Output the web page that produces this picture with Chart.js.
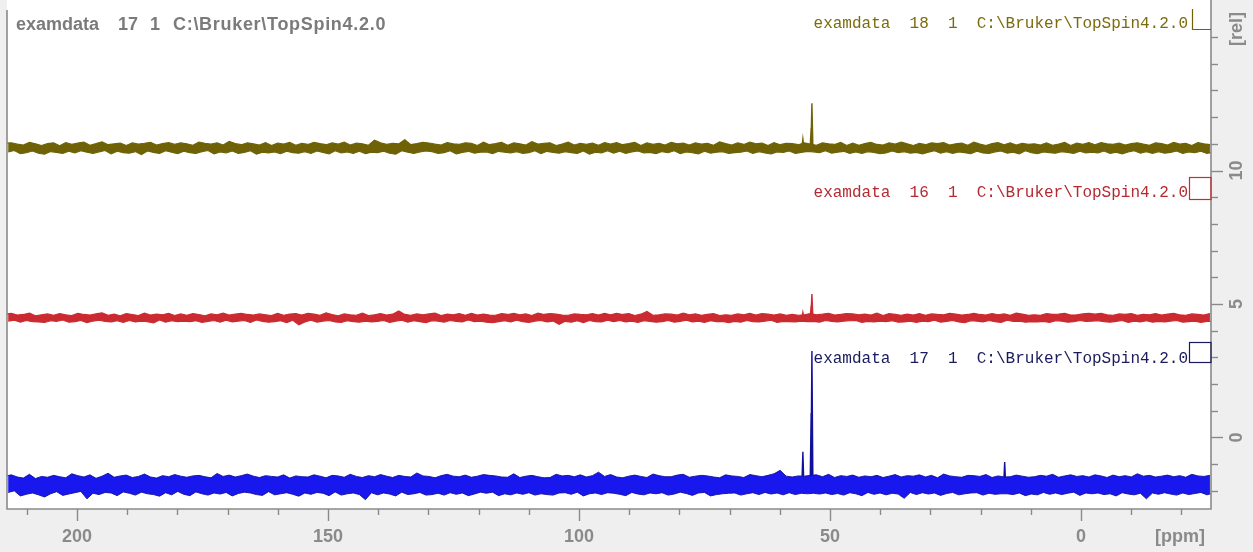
<!DOCTYPE html>
<html>
<head>
<meta charset="utf-8">
<script src="https://cdn.jsdelivr.net/npm/chart.js@4/dist/chart.umd.min.js"></script>
<style>
html,body{margin:0;padding:0;background:#efefef;}
canvas{display:block;}
</style>
</head>
<body>
<canvas id="c" width="1253" height="552"></canvas>
<script>
// ---- sampling grid (ppm) ----
const ppmStart = 214.3;
const ppmStep = 0.603;

// ---- stacking offsets of each spectrum [rel] ----
const oliveOffset = 10.84;
const redOffset = 4.48;
const blueOffset = -1.78;

// ---- axis ticks ----
const xTickLabels = [200, 150, 100, 50, 0];
const yTickLabels = [0, 5, 10];

// ---- spectrum titles ----
const titleMain = ['examdata', '17', '1', 'C:\\Bruker\\TopSpin4.2.0'];
const oliveName = 'examdata  18  1  C:\\Bruker\\TopSpin4.2.0';
const redName   = 'examdata  16  1  C:\\Bruker\\TopSpin4.2.0';
const blueName  = 'examdata  17  1  C:\\Bruker\\TopSpin4.2.0';

// ---- peaks (ppm, height above baseline) ----
const olivePeakPpm = [55.4, 53.75, 53.6];
const olivePeakHeight = [0.34, 0.75, 1.68];
const redPeakPpm = [55.4, 53.75, 53.6];
const redPeakHeight = [0.2, 0.45, 0.89];
const bluePeakPpm = [55.4, 53.75, 53.6, 15.2];
const bluePeakHeight = [1.24, 2.7, 5.02, 0.86];

// ---- baseline noise (relative to each spectrum's own baseline) ----
const oliveSpec = [
.18,-.14,.2,-.09,.15,-.21,.12,-.17,.22,-.11,.16,-.19,.1,-.23,.17,-.13,.2,-.16,.09,-.2,
.21,-.12,.14,-.18,.19,-.1,.23,-.15,.11,-.2,.17,-.14,.24,-.09,.13,-.22,.16,-.12,.19,-.17,
.1,-.19,.2,-.13,.15,-.24,.18,-.11,.22,-.16,.12,-.2,.17,-.1,.21,-.15,.14,-.21,.2,-.12,
.16,-.17,.11,-.2,.23,-.13,.18,-.09,.15,-.22,.2,-.14,.12,-.18,.25,-.11,.17,-.2,.13,-.16,
.2,-.1,.16,-.23,.12,-.15,.21,-.18,.1,-.14,.19,-.21,.15,-.12,.22,-.17,.11,-.19,.18,-.13,
.14,-.2,.22,-.11,.17,-.16,.13,-.22,.2,-.1,.15,-.18,.23,-.14,.12,-.2,.19,-.12,.16,-.21,
.11,-.15,.3,-.17,.2,-.12,.14,-.19,.18,-.23,.16,-.1,.32,-.15,.13,-.2,.17,-.14,.22,-.11,
.19,-.13,.15,-.2,.12,-.17,.21,-.1,.16,-.22,.14,-.16,.2,-.12,.18,-.19,.1,-.15,.23,-.14,
.13,-.21,.17,-.12,.22,-.15,.11,-.18,.2,-.13,.16,-.2,.12,-.17,.24,-.1,.15,-.21,.18,-.12,
.2,-.16,.1,-.19,.15,-.13,.23,-.17,.12,-.2,.18,-.11,.14,-.23,.19,-.15,.11,-.18,.21,-.1,
.15,-.19,.21,-.12,.13,-.2,.17,-.14,.22,-.11,.1,-.18,.2,-.16,.14,-.21,.18,-.13,.12,-.17,
.22,-.1,.16,-.21,.19,-.14,.12,-.17,.2,-.22,.15,-.12,.18,-.19,.11,-.15,.24,-.13,.17,-.2,
.12,-.17,.2,-.15,.14,-.11,.23,-.2,.16,-.13,.19,-.18,.1,-.22,.21,-.14,.13,-.16,.18,-.11,
.17,-.2,.13,-.16,.2,-.12,.15,-.14,.11,-.17,.2,-.1,.16,-.19,.14,-.15,.22,-.12,.1,-.2,
.19,-.14,.11,-.2,.17,-.13,.22,-.16,.14,-.21,.12,-.18,.2,-.11,.15,-.17,.23,-.13,.16,-.19,
.1,-.16,.18,-.22,.13,-.15,.2,-.1,.17,-.19,.21,-.13,.12,-.2,.16,-.14,.19,-.17,.11,-.21,
.23,-.12,.15,-.18,.1,-.2,.17,-.14,.21,-.11,.13,-.19,.2,-.15,.12,-.22,.18,-.1,.14,-.17,
.16,-.21,.12,-.14,.2,-.17,.11,-.19,.15,-.13,.22,-.16,.1,-.2,.19,-.12,.14,-.18,.21,-.15,
.13,-.18,.21,-.11,.16,-.2,.14,-.15,.19,-.22,.12,-.14,.17,-.1,.2,-.19,.15,-.13,.11,-.2,
.2,-.13,.17,-.19,.12,-.16,.22,-.11,.15,-.2,.18,-.14,.1,-.17,.21,-.12,.16,-.2,.13,-.15
];

const redSpec = [
.14,-.12,.17,-.09,.11,-.16,.13,-.1,.18,-.14,.08,-.15,.12,-.17,.15,-.11,.1,-.13,.16,-.08,
.12,-.16,.09,-.14,.17,-.1,.13,-.18,.11,-.12,.15,-.09,.19,-.13,.1,-.15,.14,-.11,.08,-.17,
.16,-.1,.13,-.15,.09,-.12,.18,-.14,.11,-.19,.14,-.08,.12,-.16,.17,-.11,.09,-.14,.15,-.12,
.1,-.14,.16,-.11,.13,-.17,.08,-.13,.15,-.1,.12,-.16,.18,-.09,.11,-.15,.14,-.12,.17,-.1,
.13,-.17,.11,-.08,.15,-.13,.12,-.16,.09,-.14,.17,-.11,.1,-.18,.14,-.09,.16,-.26,.11,-.15,
.17,-.09,.14,-.16,.1,-.12,.19,-.1,.13,-.15,.08,-.17,.15,-.11,.12,-.14,.1,-.16,.18,-.12,
.09,-.15,.12,-.13,.16,-.1,.11,-.17,.14,-.12,.26,-.09,.13,-.16,.1,-.11,.15,-.14,.12,-.18,
.15,-.11,.18,-.12,.09,-.16,.14,-.1,.12,-.13,.16,-.15,.1,-.08,.17,-.14,.11,-.12,.14,-.16,
.11,-.18,.1,-.14,.16,-.11,.13,-.15,.17,-.09,.12,-.14,.15,-.17,.09,-.12,.18,-.1,.13,-.15,
.16,-.12,.14,-.24,.11,-.13,.1,-.16,.15,-.11,.13,-.18,.12,-.1,.16,-.14,.11,-.15,.17,-.09,
.12,-.14,.17,-.1,.13,-.15,.16,-.12,.09,-.17,.14,-.11,.24,-.13,.1,-.16,.12,-.14,.15,-.1,
.14,-.16,.11,-.13,.18,-.09,.12,-.15,.15,-.12,.1,-.17,.13,-.11,.16,-.14,.09,-.13,.12,-.18,
.1,-.13,.15,-.16,.12,-.1,.17,-.14,.11,-.15,.16,-.12,.14,-.09,.11,-.17,.15,-.13,.1,-.14,
.13,-.15,.1,-.12,.12,-.14,.16,-.13,.12,-.16,.14,-.1,.17,-.13,.11,-.15,.13,-.12,.16,-.11,
.15,-.1,.12,-.17,.14,-.13,.11,-.15,.18,-.12,.09,-.14,.16,-.11,.13,-.16,.1,-.15,.14,-.12,
.11,-.17,.16,-.12,.1,-.14,.15,-.09,.13,-.16,.12,-.13,.17,-.1,.14,-.15,.11,-.18,.13,-.11,
.17,-.12,.13,-.15,.11,-.1,.16,-.14,.12,-.17,.15,-.09,.1,-.13,.18,-.12,.14,-.16,.1,-.14,
.12,-.15,.1,-.13,.16,-.17,.13,-.11,.14,-.12,.17,-.16,.11,-.14,.12,-.1,.15,-.13,.17,-.12,
.14,-.11,.17,-.14,.12,-.16,.1,-.13,.15,-.1,.13,-.17,.16,-.12,.1,-.15,.13,-.11,.12,-.16,
.16,-.13,.11,-.15,.14,-.12,.17,-.1,.12,-.16,.1,-.14,.15,-.12,.13,-.17,.11,-.13,.16,-.14
];

const blueSpec = [
.33,-.28,.38,-.22,.3,-.41,.26,-.35,.4,-.3,.24,-.37,.32,-.45,.29,-.33,.36,-.25,.31,-.39,
.27,-.34,.42,-.29,.35,-.24,.3,-.52,.38,-.31,.25,-.36,.33,-.28,.44,-.3,.29,-.4,.34,-.26,
.37,-.31,.28,-.38,.32,-.27,.41,-.33,.3,-.36,.26,-.42,.35,-.29,.31,-.37,.39,-.24,.33,-.35,
.29,-.4,.34,-.26,.36,-.33,.31,-.38,.27,-.3,.43,-.34,.32,-.28,.37,-.41,.3,-.32,.35,-.27,
.41,-.3,.33,-.36,.28,-.39,.35,-.25,.32,-.37,.3,-.33,.38,-.29,.26,-.35,.34,-.42,.31,-.3,
.3,-.35,.38,-.28,.33,-.31,.27,-.4,.36,-.26,.34,-.38,.29,-.33,.4,-.3,.32,-.36,.28,-.55,
.35,-.29,.31,-.37,.39,-.3,.33,-.34,.28,-.41,.36,-.27,.32,-.36,.3,-.33,.45,-.28,.34,-.38,
.32,-.36,.27,-.31,.35,-.38,.4,-.29,.33,-.35,.31,-.3,.37,-.4,.29,-.34,.33,-.27,.39,-.31,
.36,-.27,.34,-.4,.3,-.33,.29,-.37,.42,-.3,.28,-.35,.33,-.29,.36,-.38,.31,-.33,.27,-.36,
.28,-.38,.4,-.3,.34,-.29,.36,-.35,.31,-.27,.38,-.41,.3,-.33,.35,-.3,.48,-.36,.32,-.29,
.39,-.31,.3,-.35,.27,-.4,.33,-.28,.37,-.34,.32,-.37,.28,-.3,.41,-.33,.35,-.29,.31,-.38,
.31,-.34,.37,-.27,.4,-.32,.29,-.39,.33,-.3,.36,-.28,.34,-.41,.3,-.36,.27,-.33,.38,-.31,
.34,-.3,.32,-.38,.28,-.33,.39,-.29,.35,-.36,.31,-.28,.36,-.34,.42,-.3,.55,-.37,.33,-.29,
.3,-.36,.34,-.31,.33,-.33,.36,-.31,.38,-.34,.31,-.3,.4,-.36,.28,-.32,.35,-.38,.32,-.29,
.37,-.33,.29,-.4,.34,-.28,.31,-.35,.36,-.3,.28,-.37,.33,-.31,.39,-.34,.3,-.5,.35,-.28,
.33,-.36,.38,-.29,.3,-.34,.36,-.3,.27,-.39,.41,-.32,.34,-.28,.31,-.37,.29,-.33,.36,-.3,
.35,-.29,.32,-.38,.39,-.31,.28,-.35,.34,-.33,.3,-.33,.31,-.36,.37,-.3,.33,-.4,.29,-.34,
.31,-.37,.36,-.28,.33,-.35,.4,-.3,.29,-.36,.34,-.31,.38,-.27,.32,-.39,.35,-.3,.3,-.33,
.38,-.3,.34,-.36,.28,-.33,.37,-.41,.31,-.29,.35,-.34,.3,-.37,.42,-.31,.33,-.52,.36,-.3,
.3,-.35,.33,-.29,.37,-.34,.31,-.38,.35,-.3,.29,-.36,.4,-.32,.34,-.28,.32,-.37,.36,-.3
];

// ---- colours ----
const oliveColor = '#6f6206';
const redColor = '#cb2a30';
const blueColor = '#1717ee';
const blueEdge = '#10109a';
const oliveText = '#7a6c0c';
const redText = '#b42a30';
const blueText = '#1a1a5e';
const axisGray = '#8a8a8a';

// upper edge of the noise band = positive samples, lower edge = negative samples
function edge(arr, offset, upper) {
  const pts = [];
  arr.forEach((v, i) => {
    if ((v >= 0) === upper) pts.push({ x: ppmStart - ppmStep * i, y: v + offset });
  });
  return pts;
}
function sticks(ppm, h, offset) {
  const pts = [];
  ppm.forEach((p, i) => {
    pts.push({ x: p + 0.2, y: offset }, { x: p, y: offset + h[i] }, { x: p - 0.2, y: offset }, { x: p - 0.21, y: null });
  });
  return pts;
}
function band(arr, offset, fillColor, edgeColor, w) {
  return [
    { data: edge(arr, offset, false), borderColor: edgeColor, borderWidth: w, fill: false },
    { data: edge(arr, offset, true), borderColor: edgeColor, borderWidth: w, backgroundColor: fillColor, fill: '-1' }
  ];
}

const decor = {
  id: 'decor',
  beforeDraw(chart) {
    const { ctx, chartArea: a } = chart;
    ctx.save();
    ctx.fillStyle = '#efefef';
    ctx.fillRect(0, 0, chart.width, chart.height);
    ctx.fillStyle = '#ffffff';
    ctx.fillRect(a.left, 0, a.right - a.left, a.bottom);
    ctx.restore();
  },
  afterDraw(chart) {
    const { ctx, chartArea: a } = chart;
    const xs = chart.scales.x, ys = chart.scales.y;
    ctx.save();
    // frame
    ctx.strokeStyle = axisGray;
    ctx.lineWidth = 1.6;
    ctx.beginPath();
    ctx.moveTo(a.left, 10); ctx.lineTo(a.left, a.bottom);
    ctx.lineTo(a.right, a.bottom); ctx.lineTo(a.right, 0);
    ctx.stroke();
    // x ticks
    ctx.lineWidth = 1.4;
    for (let v = 210; v >= -20; v -= 10) {
      const px = Math.round(xs.getPixelForValue(v)) + 0.5;
      const len = (v % 50 === 0) ? 12 : 6;
      ctx.beginPath(); ctx.moveTo(px, a.bottom); ctx.lineTo(px, a.bottom + len); ctx.stroke();
    }
    ctx.fillStyle = axisGray;
    ctx.font = 'bold 18px "Liberation Sans", Arial, sans-serif';
    ctx.textAlign = 'center';
    ctx.textBaseline = 'alphabetic';
    xTickLabels.forEach(v => ctx.fillText(String(v), xs.getPixelForValue(v), 542));
    ctx.fillText('[ppm]', 1180, 542);
    // y ticks
    for (let v = -2; v <= 15; v++) {
      const py = Math.round(ys.getPixelForValue(v)) + 0.5;
      const len = (v % 5 === 0 && v !== 15) ? 12 : 7;
      ctx.beginPath(); ctx.moveTo(a.right, py); ctx.lineTo(a.right + len, py); ctx.stroke();
    }
    ctx.textBaseline = 'middle';
    yTickLabels.forEach(v => {
      ctx.save();
      ctx.translate(1237, ys.getPixelForValue(v));
      ctx.rotate(-Math.PI / 2);
      ctx.fillText(String(v), 0, 0);
      ctx.restore();
    });
    ctx.save();
    ctx.translate(1237, 29);
    ctx.rotate(-Math.PI / 2);
    ctx.fillText('[rel]', 0, 0);
    ctx.restore();
    // main title
    ctx.fillStyle = '#7b7b7b';
    ctx.textAlign = 'left';
    ctx.textBaseline = 'alphabetic';
    ctx.font = 'bold 18px "Liberation Sans", Arial, sans-serif';
    const tx = [16, 118, 150, 173];
    titleMain.forEach((t, i) => {
      ctx.letterSpacing = (i === 3) ? '0.7px' : '0px';
      ctx.fillText(t, tx[i], 30);
    });
    ctx.letterSpacing = '0px';
    // spectrum labels
    ctx.font = '16px "Liberation Mono", "DejaVu Sans Mono", monospace';
    ctx.textAlign = 'right';
    ctx.fillStyle = oliveText; ctx.fillText(oliveName, 1188, 28);
    ctx.fillStyle = redText; ctx.fillText(redName, 1188, 197);
    ctx.fillStyle = blueText; ctx.fillText(blueName, 1188, 363);
    // intensity brackets
    ctx.lineWidth = 1.2;
    ctx.strokeStyle = oliveColor;
    ctx.beginPath(); ctx.moveTo(1192.5, 9); ctx.lineTo(1192.5, 29.5); ctx.lineTo(a.right, 29.5); ctx.stroke();
    ctx.strokeStyle = redColor;
    ctx.strokeRect(1189.5, 177.5, a.right - 1189.5, 22);
    ctx.strokeStyle = blueText;
    ctx.strokeRect(1189.5, 342.5, a.right - 1189.5, 20);
    ctx.restore();
  }
};

new Chart(document.getElementById('c'), {
  type: 'line',
  data: {
    datasets: [
      ...band(oliveSpec, oliveOffset, oliveColor, oliveColor, 1.1),
      { data: sticks(olivePeakPpm, olivePeakHeight, oliveOffset), borderColor: oliveColor, borderWidth: 1.4, fill: false },
      ...band(redSpec, redOffset, redColor, redColor, 1.1),
      { data: sticks(redPeakPpm, redPeakHeight, redOffset), borderColor: redColor, borderWidth: 1.4, fill: false },
      ...band(blueSpec, blueOffset, blueColor, blueEdge, 0.9),
      { data: sticks(bluePeakPpm, bluePeakHeight, blueOffset), borderColor: blueEdge, borderWidth: 1.4, fill: false }
    ]
  },
  options: {
    responsive: false,
    animation: false,
    spanGaps: false,
    layout: { padding: { left: 7, right: 42, top: 8, bottom: 43 } },
    elements: { point: { radius: 0 }, line: { tension: 0 } },
    plugins: { legend: { display: false }, tooltip: { enabled: false }, filler: { propagate: false } },
    scales: {
      x: { type: 'linear', reverse: true, min: -25.9, max: 213.94, display: false },
      y: { type: 'linear', min: -2.68, max: 16.09, display: false }
    }
  },
  plugins: [decor]
});
</script>
</body>
</html>
